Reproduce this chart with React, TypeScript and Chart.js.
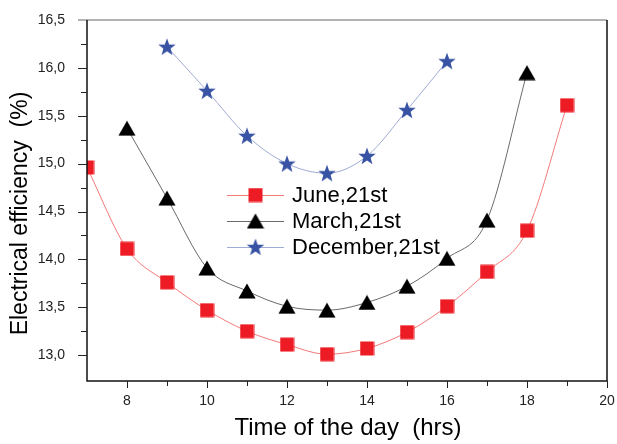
import React, { useEffect, useRef } from 'react';
import { Chart, registerables } from 'chart.js';

Chart.register(...registerables);

// ---------- data ----------
const juneHours = [7, 8, 9, 10, 11, 12, 13, 14, 15, 16, 17, 18, 19];
const juneValues = [14.96, 14.11, 13.76, 13.47, 13.25, 13.11, 13.01, 13.07, 13.24, 13.51, 13.87, 14.3, 15.61];

const marchHours = [8, 9, 10, 11, 12, 13, 14, 15, 16, 17, 18];
const marchValues = [15.37, 14.64, 13.91, 13.67, 13.51, 13.47, 13.55, 13.72, 14.01, 14.41, 15.95];

const decemberHours = [9, 10, 11, 12, 13, 14, 15, 16];
const decemberValues = [16.22, 15.76, 15.29, 15.0, 14.9, 15.08, 15.56, 16.07];

const seriesLabels = ['June,21st', 'March,21st', 'December,21st'];

const xTickValues = [8, 10, 12, 14, 16, 18, 20];
const xMinorTickValues = [9, 11, 13, 15, 17, 19];
const yTickValues = [13.0, 13.5, 14.0, 14.5, 15.0, 15.5, 16.0, 16.5];
const yMinorTickValues = [13.25, 13.75, 14.25, 14.75, 15.25, 15.75, 16.25];

const xTitle = 'Time of the day  (hrs)';
const yTitle = 'Electrical efficiency  (%)';

// ---------- styles ----------
const RED = '#ed1c24';
const RED_LINE = '#f47a7a';
const BLACK = '#000000';
const GRAY_LINE = '#6a6a6a';
const BLUE = '#3953a4';
const BLUE_LINE = '#9fabd6';
const FONT = 'Arial, "Liberation Sans", sans-serif';

function makeTriangle(): HTMLCanvasElement {
  const c = document.createElement('canvas');
  c.width = 18;
  c.height = 16;
  const g = c.getContext('2d')!;
  g.fillStyle = BLACK;
  g.beginPath();
  g.moveTo(9, 0.5);
  g.lineTo(17.6, 15.5);
  g.lineTo(0.4, 15.5);
  g.closePath();
  g.fill();
  return c;
}

function makeStar(): HTMLCanvasElement {
  const c = document.createElement('canvas');
  c.width = 20;
  c.height = 18;
  const g = c.getContext('2d')!;
  const R = 9.2;
  const r = 3.8;
  const cx = 10;
  const cy = 9.7;
  g.fillStyle = BLUE;
  g.beginPath();
  for (let i = 0; i < 10; i++) {
    const rad = i % 2 === 0 ? R : r;
    const a = -Math.PI / 2 + (i * Math.PI) / 5;
    const px = cx + rad * Math.cos(a);
    const py = cy + rad * Math.sin(a);
    if (i === 0) g.moveTo(px, py);
    else g.lineTo(px, py);
  }
  g.closePath();
  g.fill();
  return c;
}

function makeSquare(): HTMLCanvasElement {
  const c = document.createElement('canvas');
  c.width = 15;
  c.height = 15;
  const g = c.getContext('2d')!;
  g.fillStyle = RED;
  g.fillRect(0.5, 0.5, 14, 14);
  return c;
}

export default function App() {
  const canvasRef = useRef<HTMLCanvasElement | null>(null);

  useEffect(() => {
    document.body.style.margin = '0';
    const canvas = canvasRef.current;
    if (!canvas) return;

    const square = makeSquare();
    const triangle = makeTriangle();
    const star = makeStar();
    const markers = [square, triangle, star];
    const lineColors = [RED_LINE, GRAY_LINE, BLUE_LINE];

    const framePlugin = {
      id: 'frame',
      afterDraw(chart: any) {
        const ctx: CanvasRenderingContext2D = chart.ctx;
        const { left, right, top, bottom } = chart.chartArea;
        const xs = chart.scales.x;
        const ys = chart.scales.y;
        ctx.save();

        // top border (gray)
        ctx.strokeStyle = '#9a9a9a';
        ctx.lineWidth = 1.5;
        ctx.beginPath();
        ctx.moveTo(left - 9, top);
        ctx.lineTo(right, top);
        ctx.stroke();

        // left, bottom, right borders
        ctx.strokeStyle = '#111';
        ctx.lineWidth = 1.5;
        ctx.beginPath();
        ctx.moveTo(left, top);
        ctx.lineTo(left, bottom);
        ctx.lineTo(right, bottom);
        ctx.lineTo(right, top);
        ctx.stroke();

        // y ticks
        ctx.lineWidth = 1;
        ctx.strokeStyle = '#222';
        yTickValues.forEach((v) => {
          if (v >= 16.5) return;
          const py = Math.round(ys.getPixelForValue(v)) + 0.5;
          ctx.beginPath();
          ctx.moveTo(left - 9, py);
          ctx.lineTo(left, py);
          ctx.stroke();
        });
        yMinorTickValues.forEach((v) => {
          const py = Math.round(ys.getPixelForValue(v)) + 0.5;
          ctx.beginPath();
          ctx.moveTo(left - 6, py);
          ctx.lineTo(left, py);
          ctx.stroke();
        });
        // x ticks
        xTickValues.forEach((v) => {
          const px = Math.round(xs.getPixelForValue(v)) + 0.5;
          ctx.beginPath();
          ctx.moveTo(px, bottom);
          ctx.lineTo(px, bottom + 7);
          ctx.stroke();
        });
        xMinorTickValues.forEach((v) => {
          const px = Math.round(xs.getPixelForValue(v)) + 0.5;
          ctx.beginPath();
          ctx.moveTo(px, bottom);
          ctx.lineTo(px, bottom + 5);
          ctx.stroke();
        });

        // axis titles
        ctx.fillStyle = '#000';
        ctx.font = `24px ${FONT}`;
        ctx.textAlign = 'center';
        ctx.textBaseline = 'alphabetic';
        ctx.fillText(xTitle, (left + right) / 2 + 1, bottom + 54);

        ctx.font = `23px ${FONT}`;
        ctx.save();
        ctx.translate(27, (top + bottom) / 2 + 13);
        ctx.rotate(-Math.PI / 2);
        ctx.fillText(yTitle, 0, 0);
        ctx.restore();

        // legend
        const lx0 = left + 140;
        const lineLen = 57;
        const rowY0 = top + 175;
        const rowGap = 26;
        ctx.font = `22px ${FONT}`;
        ctx.textAlign = 'left';
        seriesLabels.forEach((label, i) => {
          const cy = rowY0 + i * rowGap;
          ctx.strokeStyle = lineColors[i];
          ctx.lineWidth = 1;
          ctx.beginPath();
          ctx.moveTo(lx0, cy + 0.5);
          ctx.lineTo(lx0 + lineLen, cy + 0.5);
          ctx.stroke();
          const m = markers[i];
          ctx.drawImage(m, lx0 + lineLen / 2 - m.width / 2, cy - m.height / 2);
          ctx.fillStyle = '#000';
          ctx.fillText(label, lx0 + 65, cy + 6.5);
        });

        ctx.restore();
      },
    };

    const toPoints = (xs: number[], ys: number[]) => xs.map((x, i) => ({ x, y: ys[i] }));

    const chart = new Chart(canvas, {
      type: 'line',
      data: {
        datasets: [
          {
            label: seriesLabels[0],
            data: toPoints(juneHours, juneValues),
            borderColor: RED_LINE,
            borderWidth: 1,
            pointStyle: square as any,
            pointRadius: 8,
            cubicInterpolationMode: 'monotone',
          },
          {
            label: seriesLabels[1],
            data: toPoints(marchHours, marchValues),
            borderColor: GRAY_LINE,
            borderWidth: 1,
            pointStyle: triangle as any,
            pointRadius: 8,
            cubicInterpolationMode: 'monotone',
          },
          {
            label: seriesLabels[2],
            data: toPoints(decemberHours, decemberValues),
            borderColor: BLUE_LINE,
            borderWidth: 1,
            pointStyle: star as any,
            pointRadius: 8,
            cubicInterpolationMode: 'monotone',
          },
        ],
      },
      options: {
        animation: false,
        responsive: false,
        events: [],
        layout: { padding: { left: 0, top: 20, right: 10, bottom: 0 } },
        plugins: {
          legend: { display: false },
          tooltip: { enabled: false },
        },
        scales: {
          x: {
            type: 'linear',
            min: 7,
            max: 20,
            grid: { display: false },
            border: { display: false },
            afterBuildTicks: (scale: any) => {
              scale.ticks = xTickValues.map((v) => ({ value: v }));
            },
            afterFit: (scale: any) => {
              scale.height = 63;
              scale.paddingLeft = 0;
              scale.paddingRight = 0;
            },
            ticks: {
              padding: 4,
              maxRotation: 0,
              color: '#222',
              font: { family: FONT, size: 14 },
              callback: (v: any) => String(v),
            },
          },
          y: {
            type: 'linear',
            min: 12.73,
            max: 16.5,
            grid: { display: false },
            border: { display: false },
            afterBuildTicks: (scale: any) => {
              scale.ticks = yTickValues.map((v) => ({ value: v }));
            },
            afterFit: (scale: any) => {
              scale.width = 87;
              scale.paddingTop = 0;
              scale.paddingBottom = 0;
            },
            ticks: {
              padding: 14,
              color: '#222',
              font: { family: FONT, size: 14 },
              callback: (v: any) => Number(v).toFixed(1).replace('.', ','),
            },
          },
        },
      },
      plugins: [framePlugin],
    } as any);

    return () => chart.destroy();
  }, []);

  return (
    <div style={{ width: 617, height: 444 }}>
      <canvas ref={canvasRef} width={617} height={444} style={{ display: 'block' }} />
    </div>
  );
}
